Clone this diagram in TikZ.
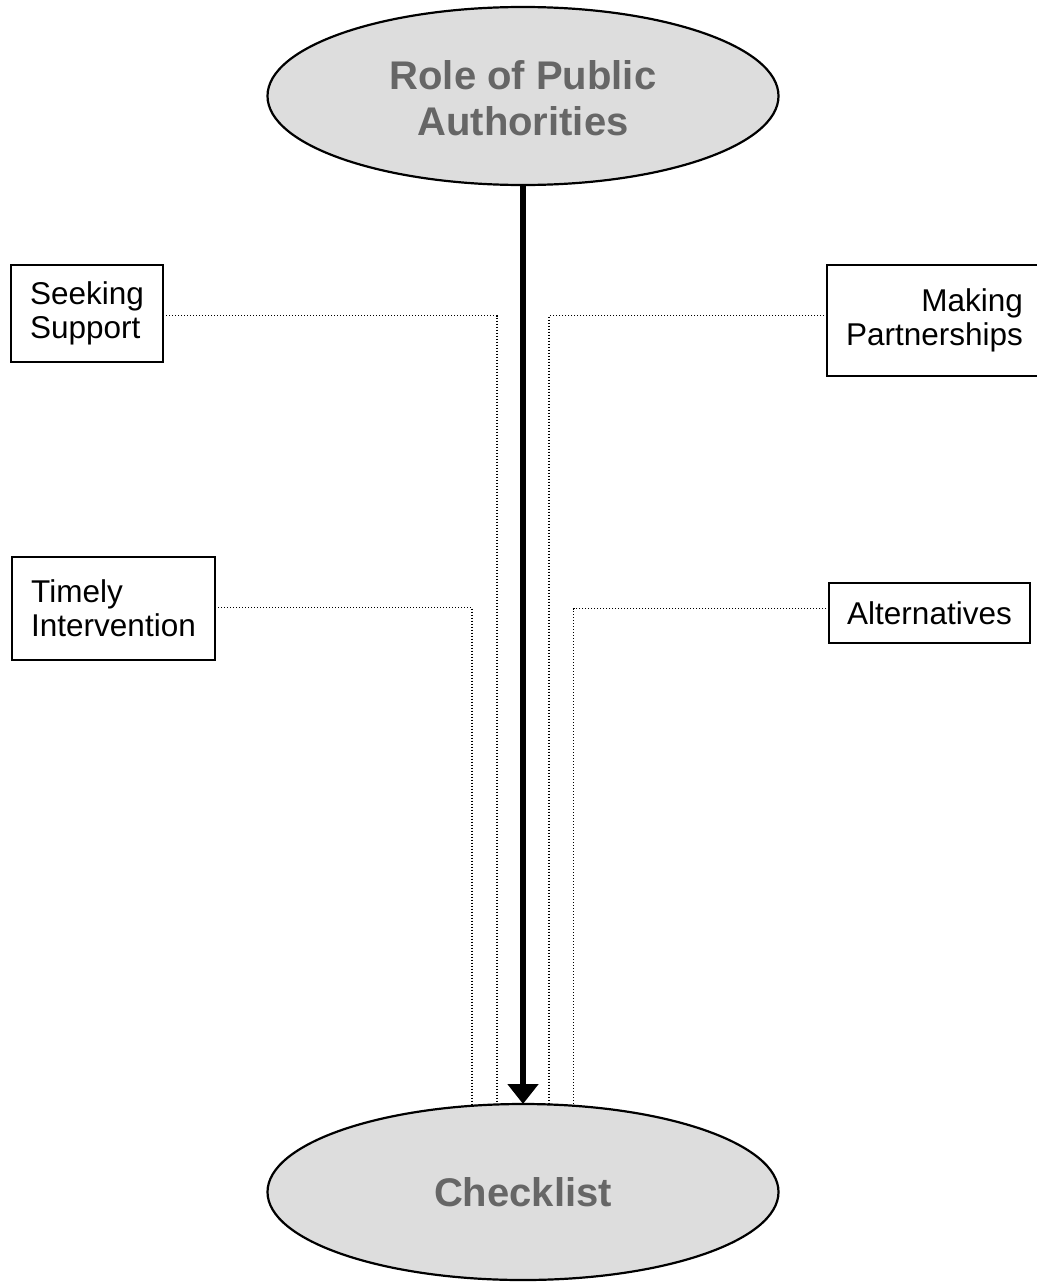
\documentclass[tikz,border=0pt]{standalone}
\usepackage{fontspec}
\setmainfont{Liberation Sans}
\usetikzlibrary{shapes.geometric,arrows.meta}
\definecolor{ellfill}{HTML}{DDDDDD}
\definecolor{elltext}{HTML}{666666}
\begin{document}
\begin{tikzpicture}[x=1pt,y=-1pt,
  ell/.style={ellipse, draw, line width=2.2pt, fill=ellfill, text=elltext,
    font=\fontsize{40}{46}\selectfont\bfseries, align=center,
    minimum width=511pt, minimum height=178pt, inner sep=0pt, outer sep=0pt},
  box/.style={draw, line width=2.3pt, font=\fontsize{31.5}{34}\selectfont,
    inner sep=0pt, outer sep=0pt, anchor=north west},
  conn/.style={line width=1.3pt, dash pattern=on 1.3pt off 1.7pt},
  mainarrow/.style={line width=6pt, -{Triangle[width=30pt,length=20pt]}}]
\useasboundingbox (0,0) rectangle (1036,1282);
\node[ell] (top) at (523,96) {\rule{0pt}{34pt}Role of Public\\Authorities};
\node[ell, minimum height=176pt] (chk) at (523,1192) {Checklist};
\node[box, minimum width=152pt, minimum height=97pt, align=left] (ss) at (11,265) {Seeking\\Support};
\node[box, minimum width=215pt, minimum height=111pt, align=right] (mp) at (827,265) {Making\\Partnerships};
\node[box, minimum width=203pt, minimum height=103pt, align=left] (ti) at (12,557) {Timely\\Intervention};
\node[box, minimum width=201pt, minimum height=60pt, align=center] (al) at (829,583) {Alternatives};
\draw[conn] ([yshift=-2pt]ss.east) -| ([xshift=-26pt]chk.north);
\draw[conn] ([yshift=5pt]mp.west) -| ([xshift=26pt]chk.north);
\draw[conn] ([yshift=1pt]ti.east) -| ([xshift=-51pt]chk.north);
\draw[conn] ([yshift=4.5pt]al.west) -| ([xshift=50.5pt]chk.north);
\draw[mainarrow] (top.south) -- (chk.north);
\end{tikzpicture}
\end{document}
